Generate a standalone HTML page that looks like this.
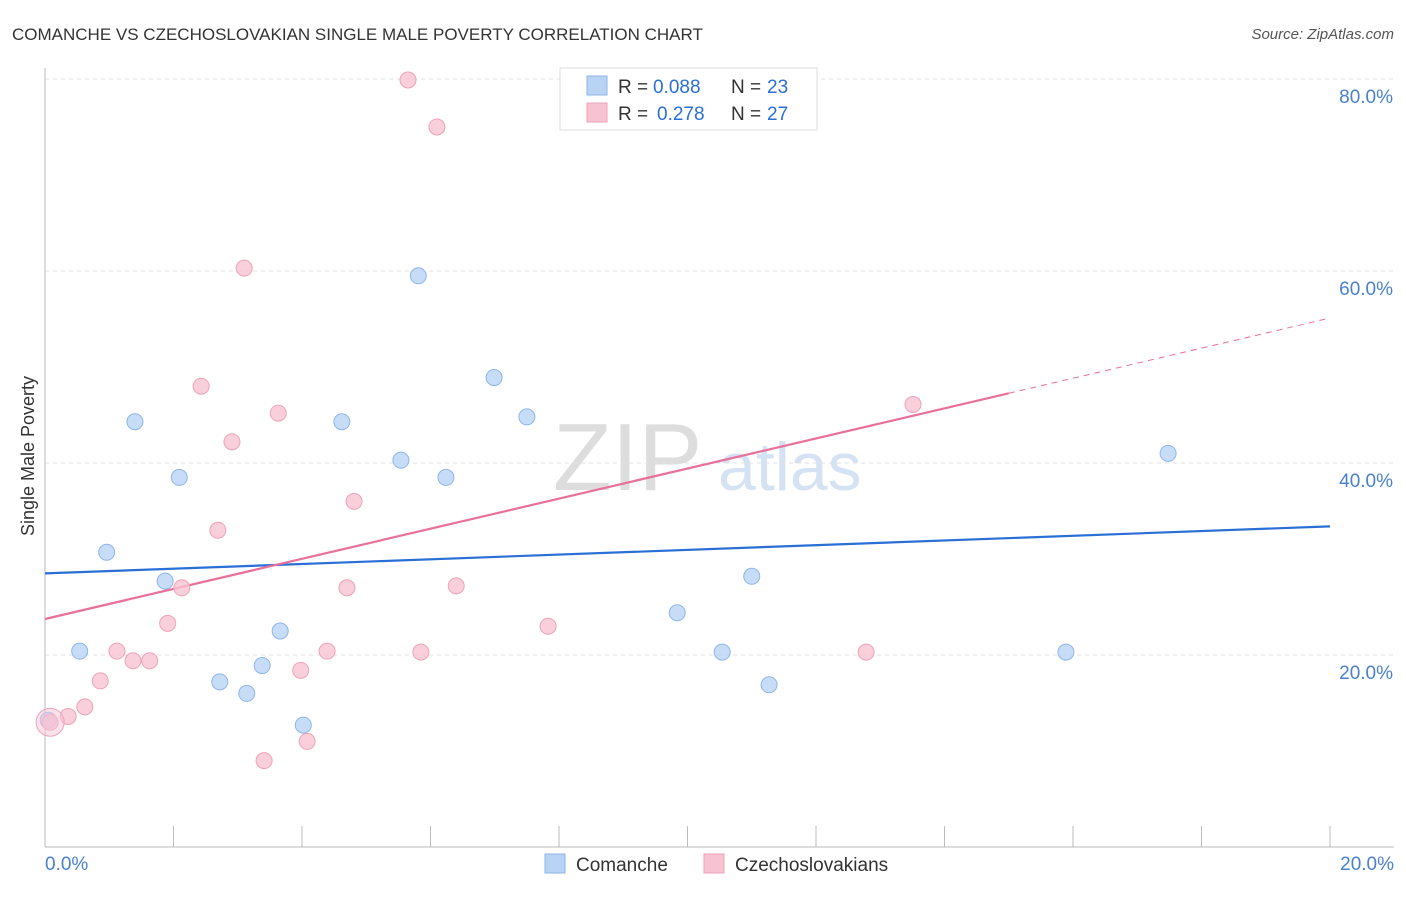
<!DOCTYPE html>
<html><head><meta charset="utf-8"><style>
body{margin:0;background:#fff;font-family:"Liberation Sans",sans-serif;}
svg text{font-family:"Liberation Sans",sans-serif;}
</style></head><body>
<svg id="chart" width="1406" height="892" xmlns="http://www.w3.org/2000/svg">
<text x="12" y="40" font-size="17" fill="#333">COMANCHE VS CZECHOSLOVAKIAN SINGLE MALE POVERTY CORRELATION CHART</text>
<text x="1394" y="39" font-size="15" fill="#555" text-anchor="end" font-style="italic">Source: ZipAtlas.com</text>
<g>
<text x="553" y="490" font-size="96" fill="#ddd" font-family="Liberation Serif">ZIP</text>
<text x="718" y="490" font-size="68" fill="#d4e2f4">atlas</text>
</g>
<g id="grid"></g>
<g id="axes"></g>
<g id="lines"></g>
<g id="points"></g>
<text transform="translate(34,456) rotate(-90)" font-size="18" fill="#333" text-anchor="middle">Single Male Poverty</text>
<g>
<rect x="560" y="68" width="257" height="62" fill="#fff" stroke="#ddd"/>
<rect x="587" y="76" width="20" height="19" fill="#b9d3f5" stroke="#8fb6e8"/>
<rect x="587" y="103" width="20" height="19" fill="#f7c3d3" stroke="#eea3ba"/>
<text x="618" y="93" font-size="19" fill="#333">R =</text>
<text x="653" y="93" font-size="19" fill="#2a6fd6">0.088</text>
<text x="731" y="93" font-size="19" fill="#333">N =</text>
<text x="767" y="93" font-size="19" fill="#2a6fd6">23</text>
<text x="618" y="120" font-size="19" fill="#333">R =</text>
<text x="657" y="120" font-size="19" fill="#2a6fd6">0.278</text>
<text x="731" y="120" font-size="19" fill="#333">N =</text>
<text x="767" y="120" font-size="19" fill="#2a6fd6">27</text>
</g>
<g>
<rect x="545" y="854" width="20" height="19" fill="#b9d3f5" stroke="#8fb6e8"/>
<text x="576" y="871" font-size="19" fill="#333">Comanche</text>
<rect x="704" y="854" width="20" height="19" fill="#f7c3d3" stroke="#eea3ba"/>
<text x="735" y="871" font-size="19" fill="#333">Czechoslovakians</text>
</g>
</svg>
<script>
const blueX=[0.05,0.54,0.96,1.40,1.87,2.09,2.72,3.14,3.38,3.66,4.02,4.62,5.54,5.81,6.24,6.99,7.50,9.84,10.54,11.00,11.27,15.89,17.48];
const blueY=[13.2,20.4,30.7,44.3,27.7,38.5,17.2,16.0,18.9,22.5,12.7,44.3,40.3,59.5,38.5,48.9,44.8,24.4,20.3,28.2,16.9,20.3,41.0];
const pinkX=[0.08,0.36,0.62,0.86,1.12,1.37,1.63,1.91,2.13,2.43,2.69,2.91,3.10,3.41,3.63,3.98,4.08,4.39,4.70,4.81,5.65,5.85,6.10,6.40,7.83,12.78,13.51];
const pinkY=[13.0,13.6,14.6,17.3,20.4,19.4,19.4,23.3,27.0,48.0,33.0,42.2,60.3,9.0,45.2,18.4,11.0,20.4,27.0,36.0,79.9,20.3,75.0,27.2,23.0,20.3,46.1];
const blueTrend=[28.5,33.4];
const pinkTrend=[23.75,55.1];
const pinkSolidEnd=15.0;
const yTicks=[20,40,60,80];
const xTickLabels=["0.0%","20.0%"];
const NS="http://www.w3.org/2000/svg";
const sx=v=>45+v*64.25, sy=v=>847-v*9.6;
function mk(parent,tag,attrs){const e=document.createElementNS(NS,tag);for(const k in attrs)e.setAttribute(k,attrs[k]);document.getElementById(parent).appendChild(e);return e;}
yTicks.forEach(t=>{
 const l=mk('grid','line',{x1:45,x2:1394,y1:sy(t),y2:sy(t),stroke:'#e2e2e2','stroke-dasharray':'4,4'});
 
 
 const tx=mk('grid','text',{x:1393,y:sy(t)+24,'font-size':19,fill:'#4a80d0','text-anchor':'end'});
 tx.textContent=t.toFixed(1)+'%';
 
 
});
let a=mk('axes','line',{x1:45,x2:45,y1:68,y2:847,stroke:'#bbb'});


a=mk('axes','line',{x1:45,x2:1394,y1:847,y2:847,stroke:'#bbb'});


for(let i=0;i<=10;i++){const t=mk('axes','line',{x1:sx(i*2),x2:sx(i*2),y1:826,y2:847,stroke:'#bbb'});
 
 }
let t0=mk('axes','text',{x:45,y:870,'font-size':19,fill:'#4a80d0'});t0.textContent=xTickLabels[0];


let t1=mk('axes','text',{x:1394,y:870,'font-size':19,fill:'#4a80d0','text-anchor':'end'});t1.textContent=xTickLabels[1];


function addPts(X,Y,fill,stroke,name){X.forEach((x,i)=>{const c=mk('points','circle',{cx:sx(x),cy:sy(Y[i]),r:8,fill:fill,stroke:stroke,'stroke-width':1,'fill-opacity':0.8});
 
 });}
addPts(blueX,blueY,'#b9d3f5','#8fb6e8','comanche-point');
addPts(pinkX,pinkY,'#f7c3d3','#eea3ba','czechoslovakian-point');
const big=mk('points','circle',{cx:sx(0.08),cy:sy(13.0),r:14,fill:'#f7c3d3',stroke:'#eea3ba','fill-opacity':0.5});


let bl=mk('lines','line',{x1:sx(0),y1:sy(blueTrend[0]),x2:sx(20),y2:sy(blueTrend[1]),stroke:'#2a6fd6','stroke-width':2.2});


const pAt=x=>pinkTrend[0]+(pinkTrend[1]-pinkTrend[0])*x/20;
let pl=mk('lines','line',{x1:sx(0),y1:sy(pAt(0)),x2:sx(pinkSolidEnd),y2:sy(pAt(pinkSolidEnd)),stroke:'#e8709a','stroke-width':2.2});


let pd=mk('lines','line',{x1:sx(pinkSolidEnd),y1:sy(pAt(pinkSolidEnd)),x2:sx(20),y2:sy(pAt(20)),stroke:'#e8709a','stroke-width':1,'stroke-dasharray':'6,5'});


</script>
</body></html>
